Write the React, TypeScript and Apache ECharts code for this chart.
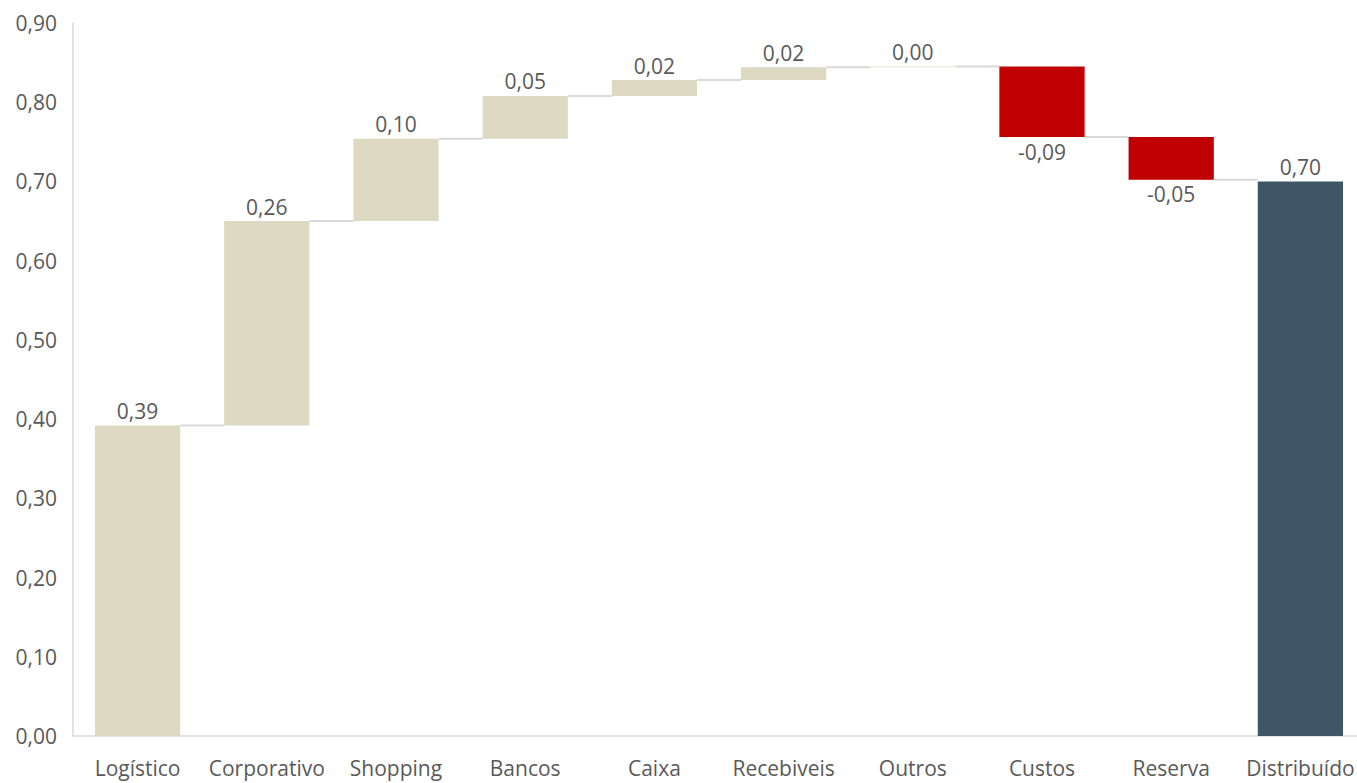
import React, { useEffect, useRef } from "react";
import * as echarts from "echarts";

const categories = [
  "Logístico",
  "Corporativo",
  "Shopping",
  "Bancos",
  "Caixa",
  "Recebiveis",
  "Outros",
  "Custos",
  "Reserva",
  "Distribuído",
];
// signed contributions; last one is the total
const deltas = [0.392, 0.258, 0.104, 0.054, 0.02, 0.016, 0.001, -0.089, -0.054];
const totalValue = 0.7;
const yTicks = { min: 0, max: 0.9, interval: 0.1 };

const TAN = "#DDD9C3";
const RED = "#C00000";
const SLATE = "#3F5666";
const TEXT = "#595959";
const FONT = "'Open Sans', 'Noto Sans', sans-serif";

const fmt = (v: number) => v.toFixed(2).replace(".", ",");

export default function App() {
  const ref = useRef<HTMLDivElement>(null);

  useEffect(() => {
    if (!ref.current) return;
    const chart = echarts.init(ref.current, undefined, { renderer: "svg" });

    const base: number[] = [];
    const heights: any[] = [];
    const ends: number[] = [];
    let cum = 0;
    deltas.forEach((d) => {
      const next = cum + d;
      base.push(d >= 0 ? cum : next);
      heights.push({
        value: Math.abs(d),
        signed: d,
        itemStyle: { color: d >= 0 ? TAN : RED },
        label: { position: d >= 0 ? "top" : "bottom" },
      });
      ends.push(next);
      cum = next;
    });
    base.push(0);
    heights.push({
      value: totalValue,
      signed: totalValue,
      itemStyle: { color: SLATE },
      label: { position: "top" },
    });

    const connectors = ends.map((e, i) => [i, e]);
    const BAR_RATIO = 0.66;

    chart.setOption({
      animation: false,
      backgroundColor: "#ffffff",
      grid: { left: 73, top: 23, bottom: 47, right: 10, containLabel: false },
      xAxis: {
        type: "category",
        data: categories,
        axisLine: { show: true, lineStyle: { color: "#D9D9D9", width: 1.5 } },
        axisTick: { show: false },
        axisLabel: {
          color: TEXT,
          fontSize: 21,
          fontFamily: FONT,
          margin: 21,
          interval: 0,
        },
        splitLine: { show: false },
      },
      yAxis: {
        type: "value",
        min: yTicks.min,
        max: yTicks.max,
        interval: yTicks.interval,
        axisLine: { show: true, lineStyle: { color: "#D9D9D9", width: 1.5 } },
        axisTick: { show: false },
        splitLine: { show: false },
        axisLabel: {
          color: TEXT,
          fontSize: 21,
          fontFamily: FONT,
          margin: 16,
          formatter: (v: number) => fmt(v),
        },
      },
      series: [
        {
          type: "bar",
          stack: "wf",
          data: base,
          barWidth: BAR_RATIO * 100 + "%",
          itemStyle: { color: "transparent" },
          silent: true,
        },
        {
          type: "bar",
          stack: "wf",
          data: heights,
          barWidth: BAR_RATIO * 100 + "%",
          label: {
            show: true,
            color: TEXT,
            fontSize: 21,
            fontFamily: FONT,
            distance: 4,
            formatter: (p: any) => fmt(p.data.signed),
          },
        },
        {
          type: "custom",
          data: connectors,
          encode: { x: 0, y: 1 },
          z: 1,
          renderItem: (params: any, api: any) => {
            const i = api.value(0);
            const level = api.value(1);
            const p = api.coord([i, level]);
            const band = api.size([1, 0])[0];
            const bw = band * BAR_RATIO;
            return {
              type: "line",
              shape: {
                x1: p[0] + bw / 2,
                y1: p[1],
                x2: p[0] + band - bw / 2,
                y2: p[1],
              },
              style: { stroke: "#D9D9D9", lineWidth: 2 },
            };
          },
        },
      ],
    });

    return () => chart.dispose();
  }, []);

  return (
    <div
      style={{
        position: "fixed",
        left: 0,
        top: 0,
        width: 1357,
        height: 783,
        overflow: "hidden",
        background: "#fff",
      }}
    >
      <div ref={ref} style={{ width: 1375, height: 783 }} />
    </div>
  );
}
